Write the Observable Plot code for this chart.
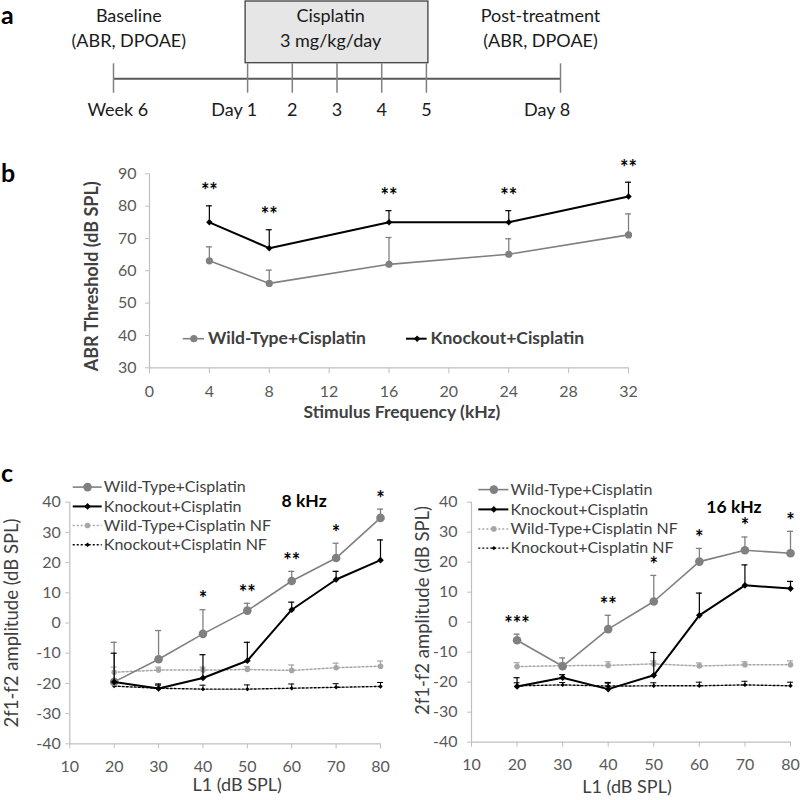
<!DOCTYPE html>
<html><head><meta charset="utf-8">
<script src="https://cdn.jsdelivr.net/npm/d3@7"></script>
<script src="https://cdn.jsdelivr.net/npm/@observablehq/plot@0.6"></script>
<style>
body{margin:0;background:#fff;}
#fig{position:relative;width:800px;height:800px;overflow:hidden;font-family:Lato,"Open Sans",sans-serif;}
.panel{position:absolute;}
.panel svg{display:block;}
.letter{position:absolute;font-weight:700;font-size:25px;line-height:25px;color:#000;font-family:Lato,sans-serif;}
</style></head><body>
<div id="fig"></div>
<script>
// ================= DATA =================
// Panel a: timeline (days relative to first cisplatin dose)
const timelineDays   = [-2, 1, 2, 3, 4, 5, 8];
const timelineLabels = ["Week 6", "Day 1", "2", "3", "4", "5", "Day 8"];
const treatmentDays  = [1, 5];
const phaseDays      = [-2, 3, 8];
const phaseTitles    = ["Baseline", "Cisplatin", "Post-treatment"];
const phaseSubtitles = ["(ABR, DPOAE)", "3 mg/kg/day", "(ABR, DPOAE)"];

// Panel b: ABR thresholds
const abrFreq   = [4, 8, 16, 24, 32];
const abrWT     = [63.1, 56.1, 62.0, 65.1, 71.1];
const abrWTErr  = [4.3, 4.1, 8.3, 4.8, 6.5];
const abrKO     = [75.0, 67.0, 75.0, 75.0, 83.0];
const abrKOErr  = [5.1, 5.7, 3.6, 3.6, 4.4];
const abrStars  = ["**", "**", "**", "**", "**"];
const abrXTicks = [0, 4, 8, 12, 16, 20, 24, 28, 32];
const abrYTicks = [30, 40, 50, 60, 70, 80, 90];

// Panel c: DPOAE 2f1-f2 amplitude
const L1 = [20, 30, 40, 50, 60, 70, 80];
const dp8WT       = [-19.5, -12.0, -3.6, 4.1, 13.9, 21.5, 34.8];
const dp8WTErr    = [13.1, 9.5, 8.0, 2.4, 3.2, 4.9, 2.9];
const dp8KO       = [-19.5, -21.7, -18.2, -12.5, 4.4, 14.4, 20.8];
const dp8KOErr    = [9.5, 1.5, 7.7, 6.1, 2.5, 2.7, 6.7];
const dp8WTNF     = [-16.3, -15.6, -15.6, -15.4, -15.7, -14.8, -14.3];
const dp8WTNFErr  = [1.7, 1.0, 1.0, 1.0, 1.8, 1.5, 1.7];
const dp8KONF     = [-20.9, -21.6, -21.9, -21.9, -21.6, -21.3, -21.0];
const dp8KONFErr  = [1.2, 1.0, 1.3, 1.4, 1.4, 1.2, 1.3];
const dp8Stars    = ["", "", "*", "**", "**", "*", "*"];

const dp16WT      = [-6.0, -14.7, -2.3, 6.9, 20.2, 24.0, 23.0];
const dp16WTErr   = [2.0, 2.8, 4.6, 8.7, 4.4, 4.4, 7.3];
const dp16KO      = [-21.4, -18.5, -22.3, -17.7, 2.3, 12.3, 11.2];
const dp16KOErr   = [2.9, 1.0, 2.2, 7.6, 7.4, 6.8, 2.4];
const dp16WTNF    = [-14.8, -14.5, -14.4, -13.9, -14.6, -14.2, -14.2];
const dp16WTNFErr = [1.3, 1.0, 1.2, 1.0, 1.0, 1.0, 1.3];
const dp16KONF    = [-21.2, -20.9, -21.3, -21.2, -21.2, -20.9, -21.2];
const dp16KONFErr = [1.0, 0.8, 1.0, 1.0, 1.2, 1.2, 1.2];
const dp16Stars   = ["***", "", "**", "*", "*", "*", "*"];

const dpXTicks = [10, 20, 30, 40, 50, 60, 70, 80];
const dpYTicks = [-40, -30, -20, -10, 0, 10, 20, 30, 40];
const seriesNames = ["Wild-Type+Cisplatin", "Knockout+Cisplatin", "Wild-Type+Cisplatin NF", "Knockout+Cisplatin NF"];

// ================= STYLE / LAYOUT =================
const FONT = "Lato, 'Open Sans', sans-serif";
const AXIS = "#bfbfbf", TICKTXT = "#595959", TITLE = "#404040";
const baseStyle = {fontFamily: FONT, background: "transparent", overflow: "visible", color: TICKTXT};
const STAR = {fontSize: 20, fontWeight: "bold", fill: "#000", lineAnchor: "middle"};
const fig = document.getElementById("fig");
function place(node, left, top) {
  const d = document.createElement("div");
  d.className = "panel"; d.style.left = left + "px"; d.style.top = top + "px";
  d.appendChild(node); fig.appendChild(d);
}
function letter(t, left, top) {
  const d = document.createElement("div");
  d.className = "letter"; d.textContent = t; d.style.left = left + "px"; d.style.top = top + "px";
  fig.appendChild(d);
}

// ================= PANEL a =================
{
  const L = {lineY: 78.3, tickTop: 63.3, tickBottom: 92.7, boxTop: 1, boxBottom: 62.7, titleY: 15.7, subY: 41, labelY: 110};
  const phaseDx = [15.3, -6.4, -20];
  const events = timelineDays.map((day, i) => ({day, label: timelineLabels[i]}));
  const phases = phaseDays.map((day, i) => ({day, title: phaseTitles[i], sub: phaseSubtitles[i], dx: phaseDx[i]}));
  const txt = {fontSize: 18, fill: "#1a1a1a", lineAnchor: "middle"};
  const marks = [
    Plot.rect([{x1: treatmentDays[0], x2: treatmentDays[1]}], {x1: "x1", x2: "x2", y1: L.boxTop, y2: L.boxBottom,
      fill: "#e6e6e6", stroke: "#404040", strokeWidth: 1.3, insetLeft: -2, insetRight: -2}),
    Plot.ruleY([L.lineY], {x1: d3.min(timelineDays), x2: d3.max(timelineDays), stroke: "#595959", strokeWidth: 2}),
    Plot.ruleX(events, {x: "day", y1: L.tickTop, y2: L.tickBottom, stroke: "#808080", strokeWidth: 1.5}),
    Plot.text(events.filter(e => e.label.startsWith("Week")), {x: "day", y: L.labelY, text: "label", dx: 4.3, ...txt}),
    Plot.text(events.filter(e => e.label.startsWith("Day")), {x: "day", y: L.labelY, text: "label", textAnchor: "end", dx: 9.7, ...txt}),
    Plot.text(events.filter(e => /^\d+$/.test(e.label)), {x: "day", y: L.labelY, text: "label", ...txt})
  ];
  phases.forEach(p => {
    marks.push(Plot.text([p], {x: "day", y: L.titleY, text: "title", dx: p.dx, ...txt}));
    marks.push(Plot.text([p], {x: "day", y: L.subY, text: "sub", dx: p.dx, ...txt}));
  });
  place(Plot.plot({
    width: 800, height: 130, marginLeft: 113, marginRight: 240, marginTop: 0, marginBottom: 0,
    axis: null, style: baseStyle,
    x: {domain: [d3.min(timelineDays), d3.max(timelineDays)]},
    y: {domain: [0, 130], reverse: true},
    marks
  }), 0, 0);
  letter("a", 1, 1.5);
}

// ================= PANEL b =================
{
  const rows = abrFreq.map((f, i) => ({
    f, wt: abrWT[i], wtTop: abrWT[i] + abrWTErr[i], ko: abrKO[i], koTop: abrKO[i] + abrKOErr[i],
    star: abrStars[i], starBase: Math.max(abrWT[i] + abrWTErr[i], abrKO[i] + abrKOErr[i])
  }));
  const LG = {y: 39, wt: {x1: 2.25, x2: 3.67, m: 2.96, t: 3.9}, ko: {x1: 17.17, x2: 18.55, m: 17.88, t: 18.77}};
  const YT = {x: -3.83, y: 58.3};   // rotated axis title anchor (scale units)
  const WT = {stroke: "#808080"}, KO = {stroke: "#000"};
  place(Plot.plot({
    width: 800, height: 300, marginLeft: 149, marginRight: 172, marginTop: 43.3, marginBottom: 62.7,
    style: baseStyle,
    x: {domain: [0, 32]}, y: {domain: [30, 90]},
    marks: [
      Plot.ruleY([30], {stroke: AXIS, strokeWidth: 1.2}),
      Plot.ruleX([0], {stroke: AXIS, strokeWidth: 1.2}),
      Plot.axisX({ticks: abrXTicks, tickSize: 6, tickPadding: 12, fontSize: 16, stroke: AXIS, fill: TICKTXT, label: null}),
      Plot.axisY({ticks: abrYTicks, tickSize: 4, tickPadding: 9, fontSize: 16, stroke: AXIS, fill: TICKTXT, label: null}),
      // WT error bars + line + dots
      Plot.ruleX(rows, {x: "f", y1: "wt", y2: "wtTop", ...WT, strokeWidth: 1.3}),
      Plot.ruleY(rows, {y: "wtTop", x1: "f", x2: "f", insetLeft: -3, insetRight: -3, ...WT, strokeWidth: 1.3}),
      Plot.line(rows, {x: "f", y: "wt", ...WT, strokeWidth: 1.6}),
      Plot.dot(rows, {x: "f", y: "wt", r: 3.6, fill: "#808080", stroke: "none"}),
      // KO
      Plot.ruleX(rows, {x: "f", y1: "ko", y2: "koTop", ...KO, strokeWidth: 1.2}),
      Plot.ruleY(rows, {y: "koTop", x1: "f", x2: "f", insetLeft: -3, insetRight: -3, ...KO, strokeWidth: 1.2}),
      Plot.line(rows, {x: "f", y: "ko", ...KO, strokeWidth: 2}),
      Plot.dot(rows, {x: "f", y: "ko", symbol: "diamond2", r: 2.9, fill: "#000", stroke: "none"}),
      // stars
      Plot.text(rows, {x: "f", y: "starBase", text: "star", dy: -14, ...STAR}),
      // legend
      Plot.ruleY([LG.y], {x1: LG.wt.x1, x2: LG.wt.x2, ...WT, strokeWidth: 1.6}),
      Plot.dot([LG.y], {x: LG.wt.m, y: d => d, r: 3.6, fill: "#808080", stroke: "none"}),
      Plot.text([seriesNames[0]], {x: LG.wt.t, y: LG.y, textAnchor: "start", lineAnchor: "middle", fontSize: 17.5, fontWeight: "bold", fill: TITLE}),
      Plot.ruleY([LG.y], {x1: LG.ko.x1, x2: LG.ko.x2, ...KO, strokeWidth: 2}),
      Plot.dot([LG.y], {x: LG.ko.m, y: d => d, symbol: "diamond2", r: 2.9, fill: "#000", stroke: "none"}),
      Plot.text([seriesNames[1]], {x: LG.ko.t, y: LG.y, textAnchor: "start", lineAnchor: "middle", fontSize: 17.5, fontWeight: "bold", fill: TITLE}),
      // titles
      Plot.text(["ABR Threshold (dB SPL)"], {x: YT.x, y: YT.y, rotate: -90, textAnchor: "middle", lineAnchor: "middle", fontSize: 18, fontWeight: "bold", fill: TITLE}),
      Plot.text(["Stimulus Frequency (kHz)"], {frameAnchor: "bottom", dx: 13, dy: 50.5, fontSize: 17.5, fontWeight: "bold", fill: TITLE})
    ]
  }), 0, 130);
  letter("b", 1, 160);
}

// ================= PANEL c =================
const cStyles = [
  {stroke: "#808080", sw: 1.6, dash: null, symbol: "circle", r: 4.3, ew: 1.3},
  {stroke: "#000000", sw: 2.0, dash: null, symbol: "diamond2", r: 3.0, ew: 1.2},
  {stroke: "#a6a6a6", sw: 1.5, dash: "2,2", symbol: "circle", r: 2.8, ew: 1.2},
  {stroke: "#000000", sw: 1.4, dash: "2,2", symbol: "diamond2", r: 2.0, ew: 1.0}
];
function panelC(cfg) {
  const series = cfg.values.map((vals, s) => L1.map((x, i) => ({x, y: vals[i], top: vals[i] + cfg.errs[s][i]})));
  const starRows = L1.map((x, i) => ({x, star: cfg.stars[i], base: Math.max(series[0][i].top, series[1][i].top)}));
  const order = [2, 3, 0, 1];
  const marks = [
    Plot.ruleY([-40], {stroke: AXIS, strokeWidth: 1.2}),
    Plot.ruleX([10], {stroke: AXIS, strokeWidth: 1.2}),
    Plot.axisX({ticks: dpXTicks, tickSize: 5, tickPadding: cfg.xPad, fontSize: 16, stroke: AXIS, fill: TICKTXT, label: null}),
    Plot.axisY({ticks: dpYTicks, tickSize: 4, tickPadding: cfg.yPad, fontSize: 16, stroke: AXIS, fill: TICKTXT, label: null, tickFormat: d => String(d)})
  ];
  for (const s of order) {
    const st = cStyles[s], data = series[s];
    marks.push(
      Plot.ruleX(data, {x: "x", y1: "y", y2: "top", stroke: st.stroke, strokeWidth: st.ew}),
      Plot.ruleY(data, {y: "top", x1: "x", x2: "x", insetLeft: -3, insetRight: -3, stroke: st.stroke, strokeWidth: st.ew}),
      Plot.line(data, {x: "x", y: "y", stroke: st.stroke, strokeWidth: st.sw, strokeDasharray: st.dash}),
      Plot.dot(data, {x: "x", y: "y", symbol: st.symbol, r: st.r, fill: st.stroke, stroke: "none"})
    );
  }
  const lg = cfg.legend;
  seriesNames.forEach((name, s) => {
    const st = cStyles[s], y = lg.rows[s];
    marks.push(
      Plot.ruleY([y], {x1: lg.x1, x2: lg.x2, stroke: st.stroke, strokeWidth: st.sw, strokeDasharray: st.dash}),
      Plot.dot([y], {x: lg.m, y: d => d, symbol: st.symbol, r: st.r, fill: st.stroke, stroke: "none"}),
      Plot.text([name], {x: lg.t, y, textAnchor: "start", lineAnchor: "middle", fontSize: 16, fill: TITLE})
    );
  });
  marks.push(
    Plot.text(starRows, {x: "x", y: "base", text: "star", dy: -10, ...STAR}),
    Plot.text([cfg.freqLabel], {x: cfg.freqPos[0], y: cfg.freqPos[1], fontSize: 17.5, fontWeight: "bold", fill: "#000", lineAnchor: "middle"}),
    Plot.text(["2f1-f2 amplitude (dB SPL)"], {x: cfg.yTitle[0], y: cfg.yTitle[1], rotate: -90, textAnchor: "middle", lineAnchor: "middle", fontSize: 18.5, fill: TITLE}),
    Plot.text(["L1 (dB SPL)"], {frameAnchor: "bottom", dx: cfg.xTitle[0], dy: cfg.xTitle[1], fontSize: 18, fill: TITLE})
  );
  return Plot.plot({
    width: 400, height: 370, marginLeft: cfg.m[0], marginRight: cfg.m[1], marginTop: cfg.m[2], marginBottom: cfg.m[3],
    style: baseStyle,
    x: {domain: [10, 80]}, y: {domain: [-40, 40]},
    marks
  });
}
place(panelC({
  values: [dp8WT, dp8KO, dp8WTNF, dp8KONF], errs: [dp8WTErr, dp8KOErr, dp8WTNFErr, dp8KONFErr], stars: dp8Stars,
  m: [69.3, 20, 71.7, 56.7], xPad: 12, yPad: 5,
  legend: {rows: [45.0, 38.6, 32.3, 25.9], x1: 10.77, x2: 17.3, m: 14.0, t: 17.66},
  freqLabel: "8 kHz", freqPos: [62.8, 40.2], yTitle: [-3.0, 0], xTitle: [12, 47.5]
}), 0, 430);
place(panelC({
  values: [dp16WT, dp16KO, dp16WTNF, dp16KONF], errs: [dp16WTErr, dp16KOErr, dp16WTNFErr, dp16KONFErr], stars: dp16Stars,
  m: [71, 10, 71.7, 58.3], xPad: 11, yPad: 10,
  legend: {rows: [44.2, 37.6, 31.1, 24.7], x1: 11.6, x2: 18.2, m: 14.9, t: 18.56},
  freqLabel: "16 kHz", freqPos: [67.6, 38.3], yTitle: [-0.53, 3.9], xTitle: [-4, 50.5]
}), 400, 430);
letter("c", 1, 460);
</script>
</body></html>
